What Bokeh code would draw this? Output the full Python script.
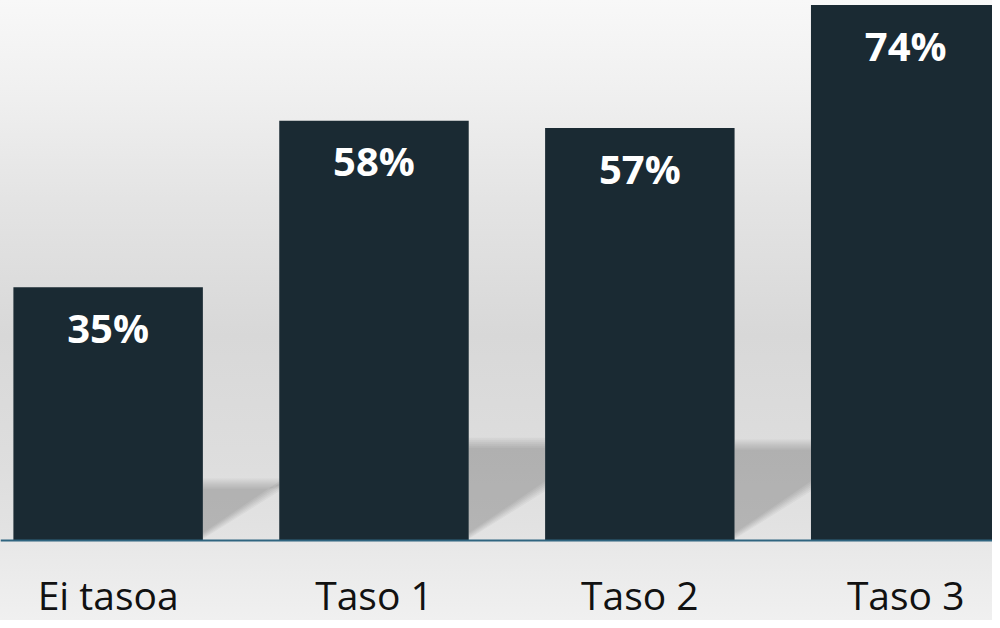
from bokeh.plotting import figure
from bokeh.models import Range1d, Span, ColumnDataSource
from bokeh.core.properties import value
from bokeh.embed import file_html
from bokeh.resources import INLINE

categories = ["Ei tasoa", "Taso 1", "Taso 2", "Taso 3"]
values = [35, 58, 57, 74]
value_labels = ["35%", "58%", "57%", "74%"]

W, H = 992, 620
SX, SY = W / 1000.0, H / 628.0
cat_px = 268.0 * SX
px_per_unit = 7.33 * SY
baseline_px = 547 * SY
x0 = -(108.5 * SX) / cat_px
bar_w = 191 / 268.0

p = figure(width=W, height=H, output_backend="svg", toolbar_location=None,
           x_range=Range1d(x0, x0 + W / cat_px),
           y_range=Range1d(-(H - baseline_px) / px_per_unit, baseline_px / px_per_unit),
           min_border=0, outline_line_color=None)
p.axis.visible = False
p.grid.visible = False
p.background_fill_alpha = 0
p.border_fill_alpha = 0
p.styles = {"background": "linear-gradient(to bottom, #f8f8f8 0%, #efefef 16%, #e4e4e4 32%, "
                          "#d8d8d8 54%, #dedede 76%, #e3e3e3 86.8%, #e8e8e8 87.6%, #f0f0f0 100%)"}

xs = list(range(len(categories)))

# soft shadows in the gaps between bars (layered to look blurred)
step = 2.0 / px_per_unit
for i in range(len(values) - 1):
    L = xs[i] + bar_w / 2
    R = xs[i + 1] - bar_w / 2
    top = 0.245 * values[i]
    for k in range(6):
        d = k * step
        p.patch([L, R, R, L], [top - d, top - d, 6.8 + d, 0.2 + d * 0.6],
                fill_color="black", fill_alpha=0.035, line_color=None)

src = ColumnDataSource(dict(x=xs, top=values, lab=value_labels, cat=categories))
p.vbar(x="x", top="top", bottom=0, width=bar_w, source=src,
       fill_color="#1a2a33", line_color=None)

p.add_layout(Span(location=0, dimension="width", line_color="#2f6580", line_width=2))

p.text(x="x", y="top", text="lab", source=src, y_offset=40,
       text_align="center", text_baseline="middle", text_color="white",
       text_font=value("Open Sans"), text_font_style="bold", text_font_size="40px")

p.text(x="x", y=0, text="cat", source=src, y_offset=594 - baseline_px,
       text_align="center", text_baseline="middle", text_color="#111111",
       text_font=value("Open Sans"), text_font_size="39px")

open("out.html", "w").write(file_html(p, INLINE))
